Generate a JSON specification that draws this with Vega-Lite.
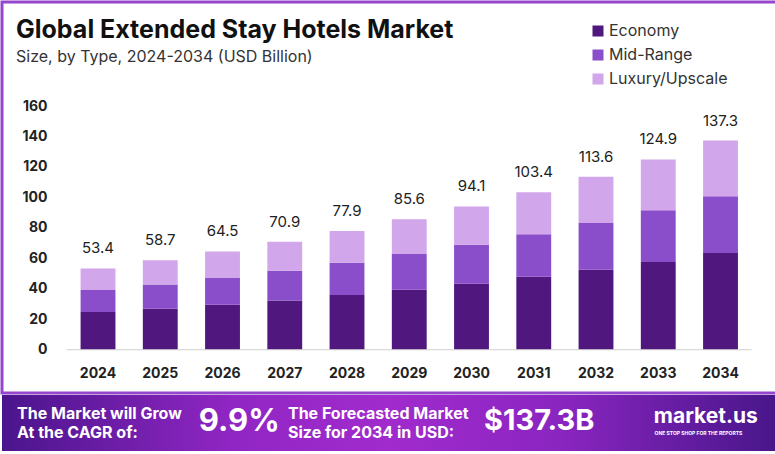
{
  "$schema": "https://vega.github.io/schema/vega-lite/v6.json",
  "padding": 0,
  "background": "white",
  "spacing": 0,
  "config": {
    "view": {"stroke": null},
    "font": "Inter",
    "concat": {"spacing": 0}
  },
  "datasets": {
    "seg": [
      {"year": "2024", "type": "Economy", "k": 1, "value": 24.8},
      {"year": "2024", "type": "Mid-Range", "k": 2, "value": 14.4},
      {"year": "2024", "type": "Luxury/Upscale", "k": 3, "value": 14.2},
      {"year": "2025", "type": "Economy", "k": 1, "value": 26.9},
      {"year": "2025", "type": "Mid-Range", "k": 2, "value": 16.0},
      {"year": "2025", "type": "Luxury/Upscale", "k": 3, "value": 15.8},
      {"year": "2026", "type": "Economy", "k": 1, "value": 29.5},
      {"year": "2026", "type": "Mid-Range", "k": 2, "value": 17.6},
      {"year": "2026", "type": "Luxury/Upscale", "k": 3, "value": 17.4},
      {"year": "2027", "type": "Economy", "k": 1, "value": 32.4},
      {"year": "2027", "type": "Mid-Range", "k": 2, "value": 19.5},
      {"year": "2027", "type": "Luxury/Upscale", "k": 3, "value": 19.0},
      {"year": "2028", "type": "Economy", "k": 1, "value": 35.9},
      {"year": "2028", "type": "Mid-Range", "k": 2, "value": 21.2},
      {"year": "2028", "type": "Luxury/Upscale", "k": 3, "value": 20.8},
      {"year": "2029", "type": "Economy", "k": 1, "value": 39.4},
      {"year": "2029", "type": "Mid-Range", "k": 2, "value": 23.4},
      {"year": "2029", "type": "Luxury/Upscale", "k": 3, "value": 22.8},
      {"year": "2030", "type": "Economy", "k": 1, "value": 43.3},
      {"year": "2030", "type": "Mid-Range", "k": 2, "value": 25.6},
      {"year": "2030", "type": "Luxury/Upscale", "k": 3, "value": 25.2},
      {"year": "2031", "type": "Economy", "k": 1, "value": 47.9},
      {"year": "2031", "type": "Mid-Range", "k": 2, "value": 27.9},
      {"year": "2031", "type": "Luxury/Upscale", "k": 3, "value": 27.6},
      {"year": "2032", "type": "Economy", "k": 1, "value": 52.5},
      {"year": "2032", "type": "Mid-Range", "k": 2, "value": 30.7},
      {"year": "2032", "type": "Luxury/Upscale", "k": 3, "value": 30.4},
      {"year": "2033", "type": "Economy", "k": 1, "value": 57.6},
      {"year": "2033", "type": "Mid-Range", "k": 2, "value": 33.9},
      {"year": "2033", "type": "Luxury/Upscale", "k": 3, "value": 33.4},
      {"year": "2034", "type": "Economy", "k": 1, "value": 63.5},
      {"year": "2034", "type": "Mid-Range", "k": 2, "value": 37.2},
      {"year": "2034", "type": "Luxury/Upscale", "k": 3, "value": 36.6}
    ],
    "tot": [
      {"year": "2024", "total": 53.4},
      {"year": "2025", "total": 58.7},
      {"year": "2026", "total": 64.5},
      {"year": "2027", "total": 70.9},
      {"year": "2028", "total": 77.9},
      {"year": "2029", "total": 85.6},
      {"year": "2030", "total": 94.1},
      {"year": "2031", "total": 103.4},
      {"year": "2032", "total": 113.6},
      {"year": "2033", "total": 124.9},
      {"year": "2034", "total": 137.3}
    ]
  },
  "vconcat": [
    {
      "width": 775,
      "height": 391,
      "view": {"stroke": "#9447cc", "strokeWidth": 3},
      "title": {
        "text": "Global Extended Stay Hotels Market",
        "subtitle": "Size, by Type, 2024-2034 (USD Billion)",
        "anchor": "start",
        "frame": "group",
        "offset": -63,
        "dx": 14,
        "font": "Inter",
        "fontSize": 25,
        "fontWeight": "bold",
        "color": "#111111",
        "subtitleFont": "Inter",
        "subtitleFontSize": 16,
        "subtitleColor": "#333333",
        "subtitlePadding": 6
      },
      "layer": [
        {
          "data": {"name": "seg"},
          "mark": {"type": "bar"},
          "encoding": {
            "x": {
              "field": "year",
              "type": "ordinal",
              "scale": {"paddingInner": 0.44, "paddingOuter": 0.945, "align": 0.668},
              "axis": {
                "title": null,
                "domain": false,
                "ticks": false,
                "labelPadding": 0,
                "offset": -27,
                "labelAngle": 0,
                "labelFont": "Inter",
                "labelFontWeight": "bold",
                "labelFontSize": 14,
                "labelColor": "#222222"
              }
            },
            "y": {
              "field": "value",
              "type": "quantitative",
              "stack": "zero",
              "scale": {"domain": [-28.4, 228.3], "nice": false, "zero": false},
              "axis": {
                "values": [0, 20, 40, 60, 80, 100, 120, 140, 160],
                "title": null,
                "domain": false,
                "ticks": false,
                "grid": false,
                "labelPadding": 0,
                "offset": -45,
                "labelFont": "Inter",
                "labelFontWeight": "bold",
                "labelFontSize": 14,
                "labelColor": "#222222"
              }
            },
            "color": {
              "field": "type",
              "type": "nominal",
              "scale": {
                "domain": ["Economy", "Mid-Range", "Luxury/Upscale"],
                "range": ["#50177f", "#8b4ecb", "#d2a6ea"]
              },
              "legend": {
                "title": null,
                "orient": "none",
                "legendX": 588,
                "legendY": 21,
                "padding": 0,
                "symbolType": "square",
                "symbolSize": 121,
                "symbolStrokeWidth": 0,
                "symbolOpacity": 1,
                "labelFont": "Inter",
                "labelFontSize": 16,
                "labelColor": "#333333",
                "labelOffset": 3,
                "rowPadding": 8
              }
            },
            "order": {"field": "k", "type": "quantitative"}
          }
        },
        {
          "data": {"values": [{"line": "baseline"}]},
          "mark": {"type": "rule", "color": "#d0d0d0", "strokeWidth": 1},
          "encoding": {
            "y": {"datum": 0, "type": "quantitative"},
            "x": {"datum": "2024", "type": "ordinal", "bandPosition": -0.4},
            "x2": {"datum": "2034", "bandPosition": 1.39}
          }
        },
        {
          "data": {"name": "tot"},
          "mark": {"type": "text", "dy": -15, "baseline": "alphabetic", "fontSize": 15, "font": "Inter", "color": "#222222"},
          "encoding": {
            "x": {"field": "year", "type": "ordinal"},
            "y": {"field": "total", "type": "quantitative"},
            "text": {"field": "total", "type": "quantitative", "format": ".1f"}
          }
        }
      ]
    },
    {
      "width": 775,
      "height": 56,
      "layer": [
        {
          "data": {"values": [{"x0": 0, "x1": 100, "y0": 0, "y1": 100}]},
          "mark": {
            "type": "rect",
            "color": {
              "gradient": "linear",
              "x1": 0, "y1": 0, "x2": 1, "y2": 0,
              "stops": [
                {"offset": 0, "color": "#4a158c"},
                {"offset": 0.3, "color": "#9126c4"},
                {"offset": 0.5, "color": "#a12bcd"},
                {"offset": 0.72, "color": "#8a25c0"},
                {"offset": 1, "color": "#48168a"}
              ]
            }
          },
          "encoding": {
            "x": {"field": "x0", "type": "quantitative", "scale": {"domain": [0, 100], "nice": false, "zero": false}, "axis": null},
            "x2": {"field": "x1"},
            "y": {"field": "y0", "type": "quantitative", "scale": {"domain": [0, 100], "nice": false, "zero": false}, "axis": null},
            "y2": {"field": "y1"}
          }
        },
        {
          "data": {"values": [{"text": "The Market will Grow\nAt the CAGR of:"}]},
          "mark": {"type": "text", "lineBreak": "\n", "lineHeight": 19, "align": "left", "baseline": "middle", "font": "Inter", "fontSize": 16, "fontWeight": "bold", "color": "white"},
          "encoding": {
            "x": {"datum": 1.94, "type": "quantitative"},
            "y": {"datum": 66.6, "type": "quantitative"},
            "text": {"field": "text"}
          }
        },
        {
          "data": {"values": [{"text": "9.9%"}]},
          "mark": {"type": "text", "align": "left", "baseline": "middle", "font": "Inter", "fontSize": 31, "fontWeight": "bold", "color": "white"},
          "encoding": {
            "x": {"datum": 25.4, "type": "quantitative"},
            "y": {"datum": 51.8, "type": "quantitative"},
            "text": {"field": "text"}
          }
        },
        {
          "data": {"values": [{"text": "The Forecasted Market\nSize for 2034 in USD:"}]},
          "mark": {"type": "text", "lineBreak": "\n", "lineHeight": 19, "align": "left", "baseline": "middle", "font": "Inter", "fontSize": 16, "fontWeight": "bold", "color": "white"},
          "encoding": {
            "x": {"datum": 36.9, "type": "quantitative"},
            "y": {"datum": 66.6, "type": "quantitative"},
            "text": {"field": "text"}
          }
        },
        {
          "data": {"values": [{"text": "$137.3B"}]},
          "mark": {"type": "text", "align": "left", "baseline": "middle", "font": "Inter", "fontSize": 29, "fontWeight": "bold", "color": "white"},
          "encoding": {
            "x": {"datum": 62.2, "type": "quantitative"},
            "y": {"datum": 53.6, "type": "quantitative"},
            "text": {"field": "text"}
          }
        },
        {
          "data": {"values": [{"text": "market.us"}]},
          "mark": {"type": "text", "align": "left", "baseline": "middle", "font": "Inter", "fontSize": 21, "fontWeight": "bold", "color": "white"},
          "encoding": {
            "x": {"datum": 84.1, "type": "quantitative"},
            "y": {"datum": 60, "type": "quantitative"},
            "text": {"field": "text"}
          }
        },
        {
          "data": {"values": [{"text": "ONE STOP SHOP FOR THE REPORTS"}]},
          "mark": {"type": "text", "align": "left", "baseline": "middle", "font": "Inter", "fontSize": 5, "fontWeight": "bold", "color": "white"},
          "encoding": {
            "x": {"datum": 84.2, "type": "quantitative"},
            "y": {"datum": 33, "type": "quantitative"},
            "text": {"field": "text"}
          }
        }
      ]
    }
  ]
}
